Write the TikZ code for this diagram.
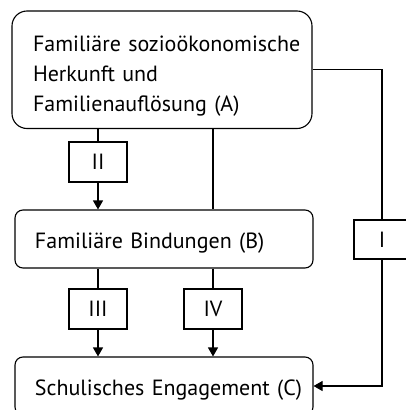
\documentclass[tikz,border=0pt]{standalone}
\usepackage{fontspec}
\setmainfont{PT Sans}
\usetikzlibrary{arrows.meta}
\begin{document}
\begin{tikzpicture}[x=1pt,y=-1pt,line width=1.1pt,
  every node/.style={font=\fontsize{22}{30}\selectfont},
  bigbox/.style={draw, rounded corners=15pt, minimum width=300pt, minimum height=117.5pt,
    text width=300pt, inner xsep=0pt, inner ysep=0pt, align=left,
    text height=16pt, text depth=53.5pt},
  midbox/.style={draw, rounded corners=8pt, minimum width=298pt, minimum height=58pt,
    text width=298pt, inner xsep=0pt, inner ysep=0pt, align=left,
    text height=18pt, text depth=0pt},
  tagbox/.style={draw, fill=white, minimum width=58pt, minimum height=40pt, inner sep=0pt},
  arr/.style={-{Triangle[length=9pt,width=10pt]}}
]
\useasboundingbox (0,0) rectangle (406,410);
\clip (0,0) rectangle (406,410);
\node[bigbox] (A) at (162,69.75) {\leftskip=21pt Familiäre sozioökonomische\\Herkunft und\\Familienauflösung (A)\par};
\node[midbox] (B) at (164,239) {\leftskip=20pt Familiäre Bindungen (B)\par};
\node[midbox] (C) at (164,386) {\leftskip=20pt Schulisches Engagement (C)\par};
\node[tagbox] (II) at (98,162) {II};
\node[tagbox] (III) at (98,309) {III};
\node[tagbox] (IV) at (213,309) {IV};
\node[tagbox, minimum width=56pt, minimum height=39pt] (I) at (382,239.5) {I};
% A -> B via II
\draw (A.south -| II.north) -- (II.north);
\draw[arr] (II.south) -- (II.south |- B.north);
% A -- B straight line
\draw (A.south -| IV.north) -- (IV.north |- B.north);
% B -> C via III and IV
\draw (B.south -| III.north) -- (III.north);
\draw[arr] (III.south) -- (III.south |- C.north);
\draw (B.south -| IV.north) -- (IV.north);
\draw[arr] (IV.south) -- (IV.south |- C.north);
% A -> C via I
\draw (A.east) -| (I.north);
\draw[arr] (I.south) |- (C.east);
\end{tikzpicture}
\end{document}
